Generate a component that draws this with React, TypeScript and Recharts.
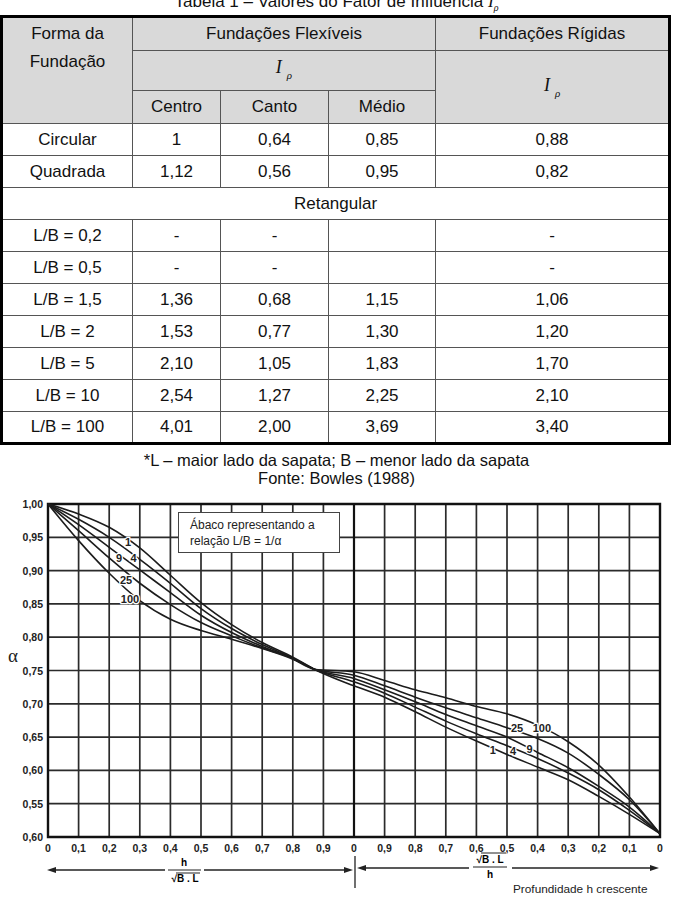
import React from "react";
import {
  LineChart,
  Line,
  XAxis,
  YAxis,
  CartesianGrid,
  ReferenceArea,
  ReferenceLine,
  ReferenceDot,
} from "recharts";

// ---- table data ----
const rowLabels = ["Circular", "Quadrada", "L/B = 0,2", "L/B = 0,5", "L/B = 1,5", "L/B = 2", "L/B = 5", "L/B = 10", "L/B = 100"];
const centro = ["1", "1,12", "-", "-", "1,36", "1,53", "2,10", "2,54", "4,01"];
const canto = ["0,64", "0,56", "-", "-", "0,68", "0,77", "1,05", "1,27", "2,00"];
const medio = ["0,85", "0,95", "", "", "1,15", "1,30", "1,83", "2,25", "3,69"];
const rigidas = ["0,88", "0,82", "-", "-", "1,06", "1,20", "1,70", "2,10", "3,40"];

// ---- chart data (left half: h/sqrt(BL) 0..1, right half: sqrt(BL)/h 1..0) ----
const xs = [0, 0.1, 0.2, 0.3, 0.4, 0.5, 0.6, 0.7, 0.8, 0.87, 1, 1.1, 1.2, 1.3, 1.4, 1.5, 1.6, 1.7, 1.8, 1.9, 2];
const lb1 = [1.0, 0.985, 0.965, 0.934, 0.893, 0.852, 0.819, 0.792, 0.77, 0.752, 0.727, 0.71, 0.688, 0.665, 0.644, 0.624, 0.605, 0.586, 0.561, 0.534, 0.505];
const lb4 = [1.0, 0.977, 0.95, 0.917, 0.881, 0.843, 0.813, 0.789, 0.769, 0.752, 0.733, 0.716, 0.695, 0.674, 0.655, 0.637, 0.618, 0.596, 0.571, 0.54, 0.505];
const lb9 = [1.0, 0.969, 0.935, 0.901, 0.867, 0.833, 0.807, 0.786, 0.768, 0.752, 0.738, 0.721, 0.703, 0.684, 0.667, 0.65, 0.627, 0.604, 0.576, 0.545, 0.505];
const lb25 = [1.0, 0.96, 0.919, 0.881, 0.849, 0.822, 0.802, 0.784, 0.768, 0.752, 0.743, 0.727, 0.71, 0.694, 0.679, 0.664, 0.648, 0.626, 0.594, 0.556, 0.505];
const lb100 = [1.0, 0.945, 0.896, 0.855, 0.827, 0.81, 0.797, 0.783, 0.767, 0.752, 0.748, 0.735, 0.721, 0.709, 0.696, 0.685, 0.668, 0.643, 0.608, 0.56, 0.505];

const xTicks = [0, 0.1, 0.2, 0.3, 0.4, 0.5, 0.6, 0.7, 0.8, 0.9, 1, 1.1, 1.2, 1.3, 1.4, 1.5, 1.6, 1.7, 1.8, 1.9, 2];
const xTickLabels = ["0", "0,1", "0,2", "0,3", "0,4", "0,5", "0,6", "0,7", "0,8", "0,9", "0", "0,9", "0,8", "0,7", "0,6", "0,5", "0,4", "0,3", "0,2", "0,1", "0"];
const yTicks = [0.5, 0.55, 0.6, 0.65, 0.7, 0.75, 0.8, 0.85, 0.9, 0.95, 1];
const yTickLabels = ["0,60", "0,55", "0,60", "0,65", "0,70", "0,75", "0,80", "0,85", "0,90", "0,95", "1,00"];

const seriesKeys = ["lb1", "lb4", "lb9", "lb25", "lb100"];

// curve labels (annotations, in data units)
const curveLabels = [
  { t: "1", x: 0.262, y: 0.943 },
  { t: "9", x: 0.232, y: 0.919 },
  { t: "4", x: 0.28, y: 0.919 },
  { t: "25", x: 0.255, y: 0.886 },
  { t: "100", x: 0.268, y: 0.858 },
  { t: "1", x: 1.454, y: 0.631 },
  { t: "4", x: 1.52, y: 0.629 },
  { t: "9", x: 1.574, y: 0.632 },
  { t: "25", x: 1.533, y: 0.663 },
  { t: "100", x: 1.614, y: 0.663 },
];

const chartData = xs.map((x, i) => ({
  x,
  lb1: lb1[i],
  lb4: lb4[i],
  lb9: lb9[i],
  lb25: lb25[i],
  lb100: lb100[i],
}));

const SANS = "'Liberation Sans', Arial, sans-serif";
const SERIF = "'Liberation Serif', 'Times New Roman', serif";
const HEAD_BG = "#d9d9d9";
const INNER = "1px solid #555";

const cell: React.CSSProperties = {
  border: INNER,
  padding: 0,
  textAlign: "center",
  verticalAlign: "middle",
  fontSize: 17,
  color: "#111",
};

function Irho() {
  return (
    <span style={{ fontFamily: SERIF, fontStyle: "italic", fontSize: 18 }}>
      I
      <sub style={{ fontSize: 11, marginLeft: 5, verticalAlign: -6 }}>ρ</sub>
    </span>
  );
}

function XTick(props: any) {
  const { x, y, payload } = props;
  const i = xTicks.indexOf(payload.value);
  return (
    <text x={x} y={y + 15} textAnchor="middle" fontFamily={SANS} fontWeight="bold" fontSize={10.5} fill="#222">
      {xTickLabels[i]}
    </text>
  );
}

function YTick(props: any) {
  const { x, y, payload } = props;
  const i = yTicks.indexOf(payload.value);
  return (
    <text x={x - 5} y={y + 4} textAnchor="end" fontFamily={SANS} fontWeight="bold" fontSize={10.5} fill="#222">
      {yTickLabels[i]}
    </text>
  );
}

function DataTable() {
  const headRows = [34, 40, 33];
  const bodyH = 32;
  return (
    <table
      style={{
        position: "absolute",
        top: 15,
        left: 0,
        width: 668,
        borderCollapse: "collapse",
        tableLayout: "fixed",
        border: "3px solid #000",
        fontFamily: SANS,
      }}
    >
      <colgroup>
        <col style={{ width: 131 }} />
        <col style={{ width: 88 }} />
        <col style={{ width: 108 }} />
        <col style={{ width: 107 }} />
        <col style={{ width: 234 }} />
      </colgroup>
      <tbody>
        <tr style={{ height: headRows[0] }}>
          <td
            rowSpan={3}
            style={{ ...cell, background: HEAD_BG, verticalAlign: "top", lineHeight: "28px", paddingTop: 2 }}
          >
            Forma da
            <br />
            Fundação
          </td>
          <td colSpan={3} style={{ ...cell, background: HEAD_BG }}>
            Fundações Flexíveis
          </td>
          <td style={{ ...cell, background: HEAD_BG }}>Fundações Rígidas</td>
        </tr>
        <tr style={{ height: headRows[1] }}>
          <td colSpan={3} style={{ ...cell, background: HEAD_BG, paddingBottom: 4 }}>
            <Irho />
          </td>
          <td rowSpan={2} style={{ ...cell, background: HEAD_BG }}>
            <Irho />
          </td>
        </tr>
        <tr style={{ height: headRows[2] }}>
          <td style={{ ...cell, background: HEAD_BG }}>Centro</td>
          <td style={{ ...cell, background: HEAD_BG }}>Canto</td>
          <td style={{ ...cell, background: HEAD_BG }}>Médio</td>
        </tr>
        {rowLabels.map((lab, i) => (
          <React.Fragment key={lab}>
            <tr style={{ height: bodyH }}>
              <td style={cell}>{lab}</td>
              <td style={cell}>{centro[i]}</td>
              <td style={cell}>{canto[i]}</td>
              <td style={cell}>{medio[i]}</td>
              <td style={cell}>{rigidas[i]}</td>
            </tr>
            {i === 1 && (
              <tr style={{ height: bodyH }}>
                <td colSpan={5} style={cell}>
                  Retangular
                </td>
              </tr>
            )}
          </React.Fragment>
        ))}
      </tbody>
    </table>
  );
}

function Arrow({ x, y, dir }: { x: number; y: number; dir: 1 | -1 }) {
  // tip at (x, y), dir = 1 points right, -1 points left
  const b = x - dir * 9;
  return <polygon points={`${x},${y} ${b},${y - 3} ${b},${y + 3}`} fill="#222" />;
}

function Overlay() {
  return (
    <svg
      width={673}
      height={903}
      style={{ position: "absolute", left: 0, top: 0, pointerEvents: "none" }}
    >
      {/* alpha */}
      <text x={13} y={662} textAnchor="middle" fontFamily={SERIF} fontSize={19} fill="#222">
        α
      </text>

      {/* left arrow h / sqrt(B.L) */}
      <line x1={50} y1={870} x2={165} y2={870} stroke="#222" strokeWidth={1.3} />
      <Arrow x={47} y={870} dir={-1} />
      <text x={184} y={866} textAnchor="middle" fontFamily={SANS} fontWeight="bold" fontSize={10}>
        h
      </text>
      <line x1={168} y1={870} x2={201} y2={870} stroke="#222" strokeWidth={1.2} />
      <text x={185} y={882} textAnchor="middle" fontFamily={SANS} fontWeight="bold" fontSize={10}>
        √B . L
      </text>
      <line x1={176} y1={873} x2={200} y2={873} stroke="#222" strokeWidth={1} />
      <line x1={204} y1={870} x2={350} y2={870} stroke="#222" strokeWidth={1.3} />
      <Arrow x={353} y={870} dir={1} />

      {/* middle tick */}
      <line x1={355} y1={856} x2={355} y2={888} stroke="#222" strokeWidth={1.3} />

      {/* right arrow sqrt(B.L) / h */}
      <Arrow x={357} y={868} dir={-1} />
      <line x1={360} y1={868} x2={469} y2={868} stroke="#222" strokeWidth={1.3} />
      <text x={490} y={863} textAnchor="middle" fontFamily={SANS} fontWeight="bold" fontSize={10}>
        √B . L
      </text>
      <line x1={481} y1={853} x2={506} y2={853} stroke="#222" strokeWidth={1} />
      <line x1={473} y1={867} x2={507} y2={867} stroke="#222" strokeWidth={1.2} />
      <text x={490} y={878} textAnchor="middle" fontFamily={SANS} fontWeight="bold" fontSize={10}>
        h
      </text>
      <line x1={512} y1={868} x2={652} y2={868} stroke="#222" strokeWidth={1.3} />
      <Arrow x={659} y={868} dir={1} />

      <text x={513} y={893} fontFamily={SANS} fontSize={11.8} fill="#222">
        Profundidade h crescente
      </text>
    </svg>
  );
}

export default function App() {
  return (
    <div
      style={{
        position: "absolute",
        left: 0,
        top: 0,
        width: 673,
        height: 903,
        background: "#fff",
        overflow: "hidden",
        fontFamily: SANS,
        color: "#111",
      }}
    >
      <div
        style={{
          position: "absolute",
          top: -7,
          left: 0,
          width: 673,
          textAlign: "center",
          fontSize: 17,
          lineHeight: "17px",
        }}
      >
        Tabela 1 – Valores do Fator de Influência <span style={{ fontFamily: SERIF, fontStyle: "italic" }}>I</span>
        <sub style={{ fontFamily: SERIF, fontStyle: "italic", fontSize: 10 }}>ρ</sub>
      </div>

      <DataTable />

      <div style={{ position: "absolute", top: 451, left: 0, width: 673, textAlign: "center", fontSize: 16.5, lineHeight: "18px" }}>
        *L – maior lado da sapata; B – menor lado da sapata
        <br />
        Fonte: Bowles (1988)
      </div>

      <div style={{ position: "absolute", top: 490, left: 0 }}>
        <LineChart width={673} height={413} data={chartData} margin={{ top: 14, right: 13, bottom: 0, left: 0 }}>
          <CartesianGrid stroke="#2b2b2b" strokeWidth={1.7} />
          <XAxis
            dataKey="x"
            type="number"
            domain={[0, 2]}
            ticks={xTicks}
            interval={0}
            height={66}
            axisLine={false}
            tickLine={false}
            tickSize={0}
            tickMargin={0}
            tick={<XTick />}
          />
          <YAxis
            type="number"
            domain={[0.5, 1]}
            ticks={yTicks}
            interval={0}
            width={48}
            axisLine={false}
            tickLine={false}
            tickSize={0}
            tickMargin={0}
            tick={<YTick />}
          />
          <ReferenceArea x1={0} x2={2} y1={0.5} y2={1} fill="none" stroke="#111" strokeWidth={2.4} />
          <ReferenceLine x={1} stroke="#111" strokeWidth={2.2} />
          {seriesKeys.map((k) => (
            <Line
              key={k}
              dataKey={k}
              type="monotone"
              dot={false}
              stroke="#1c1c1c"
              strokeWidth={1.6}
              isAnimationActive={false}
            />
          ))}
          {curveLabels.map((c, i) => (
            <ReferenceDot
              key={i}
              x={c.x}
              y={c.y}
              r={0}
              shape={(p: any) => (
                <text
                  x={p.cx}
                  y={p.cy + 4}
                  textAnchor="middle"
                  fontFamily={SANS}
                  fontWeight="bold"
                  fontSize={11}
                  fill="#222"
                  stroke="#fff"
                  strokeWidth={2.5}
                  paintOrder="stroke"
                >
                  {c.t}
                </text>
              )}
            />
          ))}
        </LineChart>
      </div>

      <div
        style={{
          position: "absolute",
          left: 178,
          top: 512,
          width: 162,
          height: 41,
          boxSizing: "border-box",
          border: "1px solid #444",
          background: "#fff",
          padding: "4px 0 0 11px",
          fontSize: 12,
          lineHeight: "16px",
          color: "#222",
        }}
      >
        Ábaco representando a
        <br />
        relação L/B = 1/α
      </div>

      <Overlay />
    </div>
  );
}
